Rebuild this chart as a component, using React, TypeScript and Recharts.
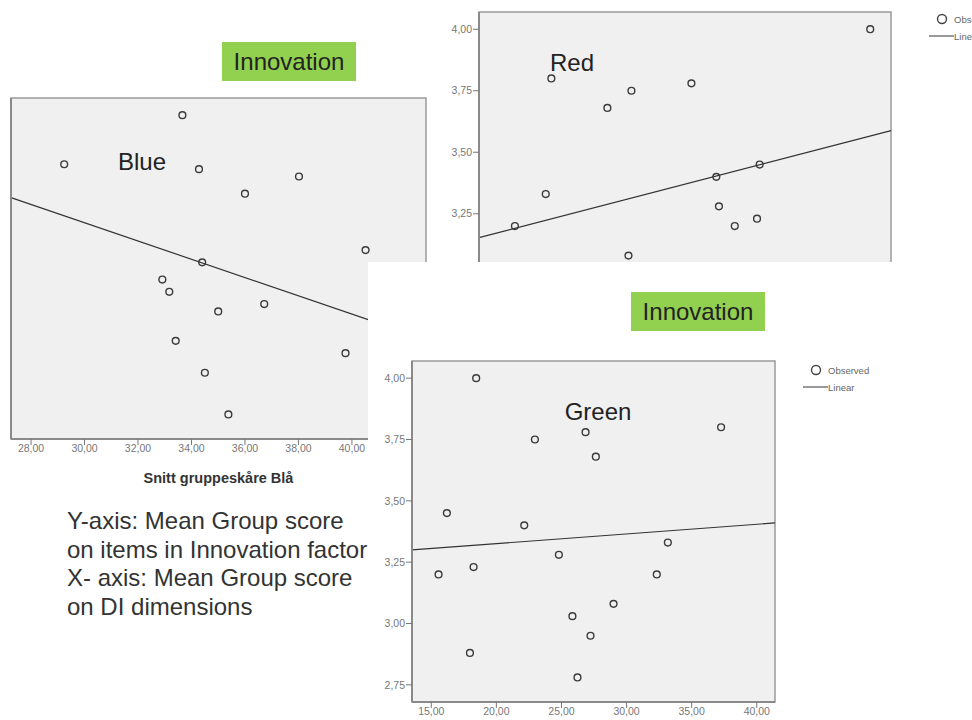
import React from 'react';
import {
  ScatterChart,
  Scatter,
  XAxis,
  YAxis,
  ReferenceArea,
  ReferenceLine,
} from 'recharts';

// Innovation score (y) against mean group score on each DI dimension (x)
const bluePoints = [
  { x: 29.24, y: 3.8 },
  { x: 33.66, y: 4.0 },
  { x: 34.28, y: 3.78 },
  { x: 36.0, y: 3.68 },
  { x: 38.02, y: 3.75 },
  { x: 40.51, y: 3.45 },
  { x: 34.4, y: 3.4 },
  { x: 32.91, y: 3.33 },
  { x: 33.17, y: 3.28 },
  { x: 36.72, y: 3.23 },
  { x: 35.0, y: 3.2 },
  { x: 33.41, y: 3.08 },
  { x: 34.5, y: 2.95 },
  { x: 39.76, y: 3.03 },
  { x: 35.38, y: 2.78 },
];
const blueFit = [
  { x: 27.25, y: 3.664 },
  { x: 42.77, y: 3.086 },
];
const blueXTicks = [28, 30, 32, 34, 36, 38, 40];

const redPoints = [
  { x: 24.39, y: 3.8 },
  { x: 22.18, y: 3.2 },
  { x: 24.05, y: 3.33 },
  { x: 27.79, y: 3.68 },
  { x: 29.25, y: 3.75 },
  { x: 29.07, y: 3.08 },
  { x: 32.89, y: 3.78 },
  { x: 34.4, y: 3.4 },
  { x: 34.56, y: 3.28 },
  { x: 35.52, y: 3.2 },
  { x: 36.87, y: 3.23 },
  { x: 37.03, y: 3.45 },
  { x: 43.74, y: 4.0 },
];
const redFit = [
  { x: 20, y: 3.153 },
  { x: 45, y: 3.588 },
];

const greenPoints = [
  { x: 18.45, y: 4.0 },
  { x: 16.2, y: 3.45 },
  { x: 15.56, y: 3.2 },
  { x: 18.25, y: 3.23 },
  { x: 17.97, y: 2.88 },
  { x: 22.14, y: 3.4 },
  { x: 22.96, y: 3.75 },
  { x: 24.8, y: 3.28 },
  { x: 25.84, y: 3.03 },
  { x: 26.23, y: 2.78 },
  { x: 26.85, y: 3.78 },
  { x: 27.64, y: 3.68 },
  { x: 27.23, y: 2.95 },
  { x: 29.0, y: 3.08 },
  { x: 32.32, y: 3.2 },
  { x: 33.17, y: 3.33 },
  { x: 37.26, y: 3.8 },
];
const greenFit = [
  { x: 13.52, y: 3.3 },
  { x: 41.4, y: 3.41 },
];
const greenXTicks = [15, 20, 25, 30, 35, 40];

const yTicks = [2.75, 3.0, 3.25, 3.5, 3.75, 4.0];
const yDomain: [number, number] = [2.68, 4.07];

const FONT = '"Liberation Sans", Arial, sans-serif';
const fmt = (v: number) => v.toFixed(2).replace('.', ',');

const Ring = (props: any) => (
  <circle cx={props.cx} cy={props.cy} r={3.4} fill="none" stroke="#3a3a3a" strokeWidth={1.4} />
);

const tickStyle = { fontSize: 10.5, fill: '#777', fontFamily: FONT };

interface PanelProps {
  points: { x: number; y: number }[];
  fit: { x: number; y: number }[];
  xDomain: [number, number];
  xTicks?: number[];
  showYLabels: boolean;
  yWidth: number;
  xHeight: number;
  xLabel?: string;
  width: number;
  height: number;
  margin: { top: number; right: number; bottom: number; left: number };
}

const Panel: React.FC<PanelProps> = ({
  points,
  fit,
  xDomain,
  xTicks,
  showYLabels,
  yWidth,
  xHeight,
  xLabel,
  width,
  height,
  margin,
}) => (
  <ScatterChart width={width} height={height} margin={margin}>
    <XAxis
      type="number"
      dataKey="x"
      domain={xDomain}
      ticks={xTicks}
      hide={!xTicks}
      height={xHeight}
      tickFormatter={fmt}
      tick={tickStyle}
      tickSize={6}
      tickMargin={0}
      axisLine={{ stroke: '#8a8a8a', strokeWidth: 2 }}
      tickLine={{ stroke: '#777' }}
      allowDataOverflow
      label={
        xLabel
          ? {
              value: xLabel,
              position: 'insideBottom',
              offset: 1,
              style: { fontSize: 14.5, fontWeight: 'bold', fill: '#333', fontFamily: FONT },
            }
          : undefined
      }
    />
    <YAxis
      type="number"
      dataKey="y"
      domain={yDomain}
      ticks={yTicks}
      width={yWidth}
      tickFormatter={fmt}
      tick={showYLabels ? tickStyle : false}
      tickSize={6}
      tickMargin={1}
      axisLine={{ stroke: '#8a8a8a', strokeWidth: 2 }}
      tickLine={{ stroke: '#777' }}
      allowDataOverflow
    />
    <ReferenceArea
      x1={xDomain[0]}
      x2={xDomain[1]}
      y1={yDomain[0]}
      y2={yDomain[1]}
      fill="#f0f0f0"
      fillOpacity={1}
      stroke="#9a9a9a"
      strokeWidth={1.5}
    />
    <ReferenceLine
      segment={[fit[0], fit[1]]}
      stroke="#333"
      strokeWidth={1.2}
      ifOverflow="visible"
    />
    <Scatter data={points} shape={Ring} isAnimationActive={false} />
  </ScatterChart>
);

const TitleBox: React.FC<{ left: number; top: number }> = ({ left, top }) => (
  <div
    style={{
      position: 'absolute',
      left,
      top,
      width: 134,
      height: 39,
      background: '#92d050',
      fontFamily: FONT,
      fontSize: 24,
      color: '#222',
      display: 'flex',
      alignItems: 'center',
      justifyContent: 'center',
    }}
  >
    Innovation
  </div>
);

const Tag: React.FC<{ cx: number; cy: number; text: string }> = ({ cx, cy, text }) => (
  <div
    style={{
      position: 'absolute',
      left: cx - 60,
      top: cy - 14,
      width: 120,
      height: 28,
      lineHeight: '28px',
      textAlign: 'center',
      fontFamily: FONT,
      fontSize: 24,
      color: '#222',
    }}
  >
    {text}
  </div>
);

const LegendBox: React.FC<{ left: number; top: number }> = ({ left, top }) => (
  <svg style={{ position: 'absolute', left, top, overflow: 'visible' }} width={80} height={30}>
    <circle cx={13} cy={8} r={4.5} fill="none" stroke="#444" strokeWidth={1.4} />
    <text x={25} y={11.5} fontSize={9.5} fill="#666" fontFamily={FONT}>
      Observed
    </text>
    <line x1={0} y1={25} x2={25} y2={25} stroke="#555" strokeWidth={1.2} />
    <text x={25} y={28.5} fontSize={9.5} fill="#666" fontFamily={FONT}>
      Linear
    </text>
  </svg>
);

export default function App() {
  return (
    <div
      style={{
        position: 'absolute',
        left: 0,
        top: 0,
        width: 972,
        height: 720,
        overflow: 'hidden',
        background: '#fff',
        fontFamily: FONT,
      }}
    >
      {/* Blue */}
      <div style={{ position: 'absolute', left: 0, top: 90 }}>
        <Panel
          points={bluePoints}
          fit={blueFit}
          xDomain={[27.25, 42.77]}
          xTicks={blueXTicks}
          showYLabels={false}
          yWidth={11}
          xHeight={45}
          xLabel="Snitt gruppeskåre Blå"
          width={440}
          height={400}
          margin={{ top: 8, right: 14, bottom: 6, left: 0 }}
        />
      </div>
      <Tag cx={142} cy={162} text="Blue" />
      <TitleBox left={222} top={42} />

      {/* Red */}
      <div style={{ position: 'absolute', left: 440, top: 0 }}>
        <Panel
          points={redPoints}
          fit={redFit}
          xDomain={[20, 45]}
          showYLabels
          yWidth={39}
          xHeight={0}
          width={460}
          height={370}
          margin={{ top: 12, right: 9, bottom: 16, left: 0 }}
        />
      </div>
      <Tag cx={572} cy={63} text="Red" />
      <LegendBox left={929} top={11} />

      {/* white panel of the Green chart covering the others */}
      <div
        style={{ position: 'absolute', left: 368, top: 262, width: 604, height: 458, background: '#fff' }}
      />

      {/* Green */}
      <div style={{ position: 'absolute', left: 370, top: 340 }}>
        <Panel
          points={greenPoints}
          fit={greenFit}
          xDomain={[13.52, 41.4]}
          xTicks={greenXTicks}
          showYLabels
          yWidth={42}
          xHeight={18}
          width={420}
          height={380}
          margin={{ top: 21, right: 15, bottom: 0, left: 0 }}
        />
      </div>
      <Tag cx={598} cy={412} text="Green" />
      <TitleBox left={631} top={292} />
      <LegendBox left={803} top={362} />

      <div
        style={{
          position: 'absolute',
          left: 67,
          top: 507,
          fontSize: 24,
          lineHeight: '28.5px',
          color: '#333',
          whiteSpace: 'pre',
        }}
      >
        {'Y-axis: Mean Group score\non items in Innovation factor\nX- axis: Mean Group score\non DI dimensions'}
      </div>
    </div>
  );
}
